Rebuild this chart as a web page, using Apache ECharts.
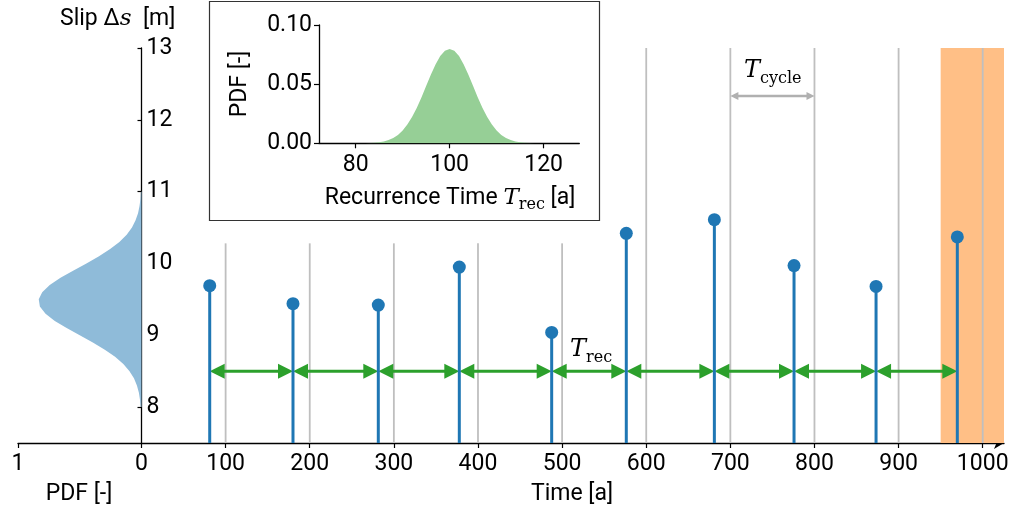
<!DOCTYPE html>
<html><head><meta charset="utf-8">
<script src="https://cdn.jsdelivr.net/npm/echarts@6/dist/echarts.min.js"></script>
<style>html,body{margin:0;padding:0;background:#fff}#c{width:1018px;height:516px}</style>
</head><body><div id="c"></div>
<script>
// ---- data ----
const eventTimes = [81.1, 180.1, 281.5, 377.8, 487.6, 576.3, 681.0, 775.7, 873.2, 969.8];
const eventSlips = [9.69, 9.44, 9.42, 9.95, 9.04, 10.42, 10.61, 9.97, 9.68, 10.37];
const cycleTimes = [100, 200, 300, 400, 500, 600, 700, 800, 900, 1000];
const cycleLineTops = [10.28, 10.28, 10.28, 10.28, 10.28, 13, 13, 13, 13, 13];
const slipGrid = [8.0, 8.1, 8.2, 8.3, 8.4, 8.5, 8.6, 8.7, 8.8, 8.9, 9.0, 9.1, 9.2, 9.3, 9.4, 9.5,
                  9.6, 9.7, 9.8, 9.9, 10.0, 10.1, 10.2, 10.3, 10.4, 10.5, 10.6, 10.7, 10.8, 10.9, 11.0];
const slipPdf = [0.006, 0.012, 0.021, 0.037, 0.061, 0.097, 0.147, 0.214, 0.297, 0.394, 0.500, 0.606,
                 0.702, 0.777, 0.823, 0.832, 0.804, 0.743, 0.656, 0.554, 0.446, 0.344, 0.254, 0.179,
                 0.120, 0.077, 0.048, 0.028, 0.016, 0.008, 0.004];
const recTimes = [74, 78, 80, 81, 82, 83, 84, 85, 86, 87, 88, 89, 90, 91, 92, 93, 94, 95, 96, 97, 98, 99, 100,
                  101, 102, 103, 104, 105, 106, 107, 108, 109, 110, 111, 112, 113, 114, 115, 116, 117, 118, 119, 120, 122, 126];
const recPdf = [0, 0, 0, 0, 0.0001, 0.0002, 0.0005, 0.0009, 0.0016, 0.0027, 0.0045, 0.0071, 0.0108, 0.0158,
                0.0222, 0.0299, 0.0388, 0.0484, 0.0579, 0.0666, 0.0737, 0.0782, 0.0798,
                0.0782, 0.0737, 0.0666, 0.0579, 0.0484, 0.0388, 0.0299, 0.0222, 0.0158, 0.0108, 0.0071,
                0.0045, 0.0027, 0.0016, 0.0009, 0.0005, 0.0002, 0.0001, 0, 0, 0, 0];
const timeTicks = [100, 200, 300, 400, 500, 600, 700, 800, 900, 1000];
const pdfTicks = [0, 1];
const slipTicks = [8, 9, 10, 11, 12, 13];
const recTicks = [80, 100, 120];
const recPdfTicks = [0, 0.05, 0.10];
const forecastWindow = [950, 1025.3];
const cycleArrow = [700, 800, 12.33];
const recArrowSlip = 8.5;

// ---- styling ----
const FONT = 'Roboto';
const FS = 23;
const BLUE = '#1f77b4', GREEN = '#2ca02c';
const T_MIN = -146.8, T_MAX = 1025.3, S_MIN = 7.5, S_MAX = 13;

const chart = echarts.init(document.getElementById('c'), null, {renderer: 'canvas'});

function arrowHead(tip, dir, len, half, color) {
  return {type: 'polygon', shape: {points: [[tip[0], tip[1]], [tip[0] - dir * len, tip[1] - half], [tip[0] - dir * len, tip[1] + half]]},
          style: {fill: color}};
}

const recPairs = [];
for (let i = 0; i < eventTimes.length - 1; i++) recPairs.push([eventTimes[i], eventTimes[i + 1], recArrowSlip]);

const labelStyle = {color: '#000', fontFamily: FONT, fontSize: FS};
const plain = v => String(v);

const option = {
  animation: false,
  backgroundColor: '#fff',
  grid: [
    {left: 18, right: 14, top: 48, bottom: 73, containLabel: false},
    {left: 319, top: 25, width: 260.3, height: 118.3, containLabel: false}
  ],
  xAxis: [
    {type: 'value', gridIndex: 0, min: T_MIN, max: T_MAX, position: 'bottom',
     axisLine: {show: true, onZero: false, symbol: ['none', 'arrow'], symbolSize: [9, 10], lineStyle: {color: '#000', width: 1.3}},
     axisTick: {show: true, customValues: timeTicks, length: 5, lineStyle: {color: '#000', width: 1.2}},
     axisLabel: Object.assign({customValues: timeTicks, margin: 10, formatter: plain}, labelStyle),
     splitLine: {show: false}},
    {type: 'value', gridIndex: 0, min: -6.984, max: 1, inverse: true, position: 'bottom',
     axisLine: {show: false, onZero: false},
     axisTick: {show: true, customValues: pdfTicks, length: 5, lineStyle: {color: '#000', width: 1.2}},
     axisLabel: Object.assign({customValues: pdfTicks, margin: 10, formatter: plain}, labelStyle),
     splitLine: {show: false}},
    {type: 'value', gridIndex: 1, min: 72.2, max: 127.6, position: 'bottom',
     axisLine: {show: true, onZero: false, lineStyle: {color: '#000', width: 1.3}},
     axisTick: {show: true, customValues: recTicks, length: 5, lineStyle: {color: '#000', width: 1.2}},
     axisLabel: Object.assign({customValues: recTicks, margin: 10, formatter: plain}, labelStyle),
     splitLine: {show: false}}
  ],
  yAxis: [
    {type: 'value', gridIndex: 0, min: S_MIN, max: S_MAX, position: 'left', offset: -123.5,
     axisLine: {show: true, onZero: false, lineStyle: {color: '#000', width: 1.3}},
     axisTick: {show: true, customValues: slipTicks, length: 4, lineStyle: {color: '#000', width: 1.2}},
     axisLabel: Object.assign({customValues: slipTicks, inside: true, margin: 5, formatter: plain}, labelStyle),
     splitLine: {show: false}},
    {type: 'value', gridIndex: 1, min: 0, max: 0.1,
     axisLine: {show: true, onZero: false, lineStyle: {color: '#000', width: 1.3}},
     axisTick: {show: true, customValues: recPdfTicks, length: 5, lineStyle: {color: '#000', width: 1.2}},
     axisLabel: Object.assign({customValues: recPdfTicks, margin: 7, formatter: v => v.toFixed(2)}, labelStyle),
     splitLine: {show: false}}
  ],
  series: [
    { // forecast window band
      type: 'custom', xAxisIndex: 0, yAxisIndex: 0, z: 1, clip: true,
      data: [forecastWindow],
      renderItem: (p, api) => {
        const a = api.coord([api.value(0), S_MAX]);
        const b = api.coord([api.value(1), S_MIN]);
        return {type: 'rect', shape: {x: a[0], y: a[1], width: b[0] - a[0], height: b[1] - a[1]}, style: {fill: '#ffbf86'}};
      }
    },
    { // cycle lines
      type: 'custom', xAxisIndex: 0, yAxisIndex: 0, z: 2, clip: true,
      data: cycleTimes.map((t, i) => [t, cycleLineTops[i]]),
      renderItem: (p, api) => {
        const a = api.coord([api.value(0), api.value(1)]);
        const b = api.coord([api.value(0), S_MIN]);
        return {type: 'line', shape: {x1: a[0], y1: a[1], x2: b[0], y2: b[1]}, style: {stroke: '#bfbfbf', lineWidth: 1.8}};
      }
    },
    { // slip PDF
      type: 'custom', xAxisIndex: 1, yAxisIndex: 0, z: 3, clip: false,
      data: [[0, slipGrid[0]]],
      renderItem: (p, api) => {
        const pts = slipGrid.map((s, i) => api.coord([slipPdf[i], s]));
        pts.push(api.coord([0, slipGrid[slipGrid.length - 1]]));
        pts.push(api.coord([0, slipGrid[0]]));
        return {type: 'polygon', shape: {points: pts}, style: {fill: '#8fbbd9'}};
      }
    },
    { // recurrence arrows
      type: 'custom', xAxisIndex: 0, yAxisIndex: 0, z: 4, clip: false,
      data: recPairs,
      renderItem: (p, api) => {
        const a = api.coord([api.value(0), api.value(2)]);
        const b = api.coord([api.value(1), api.value(2)]);
        return {type: 'group', children: [
          {type: 'line', shape: {x1: a[0] + 6, y1: a[1], x2: b[0] - 6, y2: b[1]}, style: {stroke: GREEN, lineWidth: 3}},
          arrowHead(a, -1, 15, 7.5, GREEN),
          arrowHead(b, 1, 15, 7.5, GREEN)
        ]};
      }
    },
    { // cycle arrow
      type: 'custom', xAxisIndex: 0, yAxisIndex: 0, z: 4, clip: false,
      data: [cycleArrow],
      renderItem: (p, api) => {
        const a = api.coord([api.value(0), api.value(2)]);
        const b = api.coord([api.value(1), api.value(2)]);
        const c = '#b0b0b0';
        return {type: 'group', children: [
          {type: 'line', shape: {x1: a[0] + 4, y1: a[1], x2: b[0] - 4, y2: b[1]}, style: {stroke: c, lineWidth: 2.5}},
          arrowHead(a, -1, 8, 4, c),
          arrowHead(b, 1, 8, 4, c)
        ]};
      }
    },
    { // stems
      type: 'custom', xAxisIndex: 0, yAxisIndex: 0, z: 5, clip: false,
      data: eventTimes.map((t, i) => [t, eventSlips[i]]),
      renderItem: (p, api) => {
        const top = api.coord([api.value(0), api.value(1)]);
        const base = api.coord([api.value(0), S_MIN]);
        return {type: 'group', children: [
          {type: 'line', shape: {x1: base[0], y1: base[1], x2: top[0], y2: top[1]}, style: {stroke: BLUE, lineWidth: 3}},
          {type: 'circle', shape: {cx: top[0], cy: top[1], r: 6.5}, style: {fill: BLUE}}
        ]};
      }
    },
    { // recurrence time PDF (inset)
      type: 'line', xAxisIndex: 2, yAxisIndex: 1, z: 3,
      data: recTimes.map((t, i) => [t, recPdf[i]]),
      smooth: false, symbol: 'none', showSymbol: false,
      lineStyle: {width: 0}, areaStyle: {color: '#96cf96', opacity: 1}
    }
  ],
  graphic: [
    {type: 'rect', shape: {x: 209.5, y: 1.5, width: 390, height: 219}, style: {fill: 'none', stroke: '#333', lineWidth: 1.2}, z: 10},
    {type: 'text', x: 60, y: 19, style: {text: 'Slip Δ{it|s}  [m]', fill: '#000', font: `${FS}px ${FONT}`, verticalAlign: 'middle',
      rich: {it: {fontFamily: 'DejaVu Serif', fontStyle: 'italic', fontSize: FS, fill: '#000'}}}, z: 10},
    {type: 'text', x: 79, y: 494, style: {text: 'PDF [-]', fill: '#000', font: `${FS}px ${FONT}`, align: 'center', verticalAlign: 'middle'}, z: 10},
    {type: 'text', x: 572, y: 494, style: {text: 'Time [a]', fill: '#000', font: `${FS}px ${FONT}`, align: 'center', verticalAlign: 'middle'}, z: 10},
    {type: 'text', x: 240, y: 84, rotation: Math.PI / 2, style: {text: 'PDF [-]', fill: '#000', font: `${FS}px ${FONT}`, align: 'center', verticalAlign: 'middle'}, z: 10},
    {type: 'text', x: 450, y: 198, style: {text: 'Recurrence Time {it|T}{sub|rec} [a]', fill: '#000', font: `${FS}px ${FONT}`, align: 'center', verticalAlign: 'middle',
      lineHeight: 30,
      rich: {it: {fontFamily: 'DejaVu Serif', fontStyle: 'italic', fontSize: FS, lineHeight: 30},
             sub: {fontFamily: 'DejaVu Serif', fontSize: 16, lineHeight: 15, verticalAlign: 'bottom'}}}, z: 10},
    {type: 'text', x: 744, y: 71, style: {text: '{it|T}{sub|cycle}', fill: '#000', verticalAlign: 'middle',
      rich: {it: {fontFamily: 'DejaVu Serif', fontStyle: 'italic', fontSize: 24, lineHeight: 32},
             sub: {fontFamily: 'DejaVu Serif', fontSize: 16, lineHeight: 16, verticalAlign: 'bottom'}}}, z: 10},
    {type: 'text', x: 570, y: 350, style: {text: '{it|T}{sub|rec}', fill: '#000', verticalAlign: 'middle',
      rich: {it: {fontFamily: 'DejaVu Serif', fontStyle: 'italic', fontSize: 24, lineHeight: 32},
             sub: {fontFamily: 'DejaVu Serif', fontSize: 16, lineHeight: 16, verticalAlign: 'bottom'}}}, z: 10}
  ]
};
chart.setOption(option);
</script>
</body></html>
